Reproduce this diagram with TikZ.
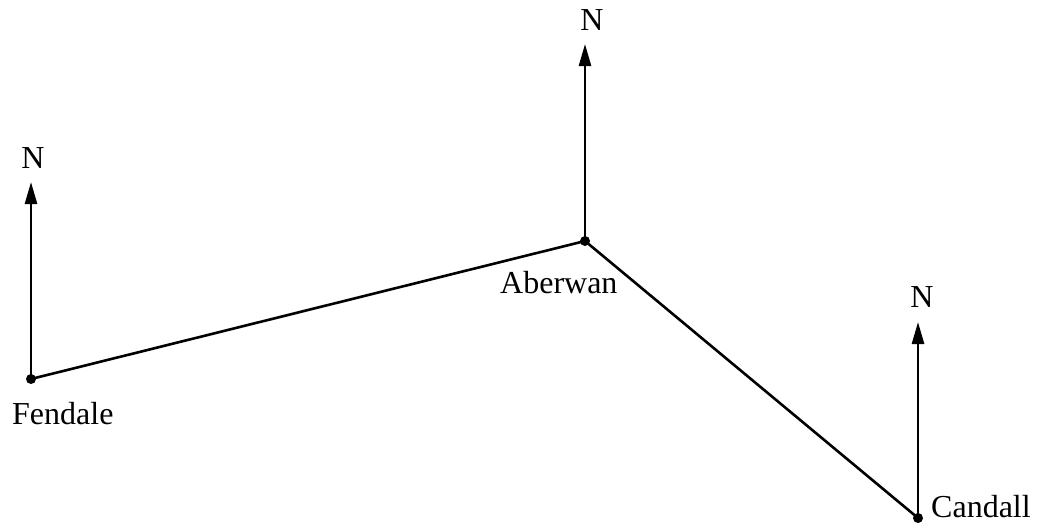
\documentclass[tikz,border=0pt]{standalone}
\usepackage{fontspec}
\setmainfont{Liberation Serif}
\usetikzlibrary{arrows.meta}
\begin{document}
\begin{tikzpicture}[x=1pt,y=-1pt,
  line/.style={line width=2.6pt},
  north/.style={line width=2.6pt,-{Triangle[length=22pt,width=12pt]}},
  dot/.style={circle,fill=black,inner sep=0pt,minimum size=10pt},
  lbl/.style={font=\fontsize{32}{34}\selectfont,inner sep=0pt}]
\useasboundingbox (0,0) rectangle (1040,528);
\node[dot] (F) at (31,379) {};
\node[dot] (A) at (585,241) {};
\node[dot] (C) at (918,518) {};
\coordinate (Ft) at (31,182);
\coordinate (At) at (585,44);
\coordinate (Ct) at (918,322);
\draw[line] (F.center) -- (A.center) -- (C.center);
\draw[north] (F.center) -- (Ft);
\draw[north] (A.center) -- (At);
\draw[north] (C.center) -- (Ct);
\node[lbl,anchor=base] (FN) at (33,168) {N};
\node[lbl,anchor=base] (AN) at (592,30) {N};
\node[lbl,anchor=base] (CN) at (922,307) {N};
\node[lbl,anchor=base west] (Fl) at (12,424) {Fendale};
\node[lbl,anchor=base west] (Al) at (500,293) {Aberwan};
\node[lbl,anchor=base west] (Cl) at (931,517) {Candall};
\end{tikzpicture}
\end{document}
